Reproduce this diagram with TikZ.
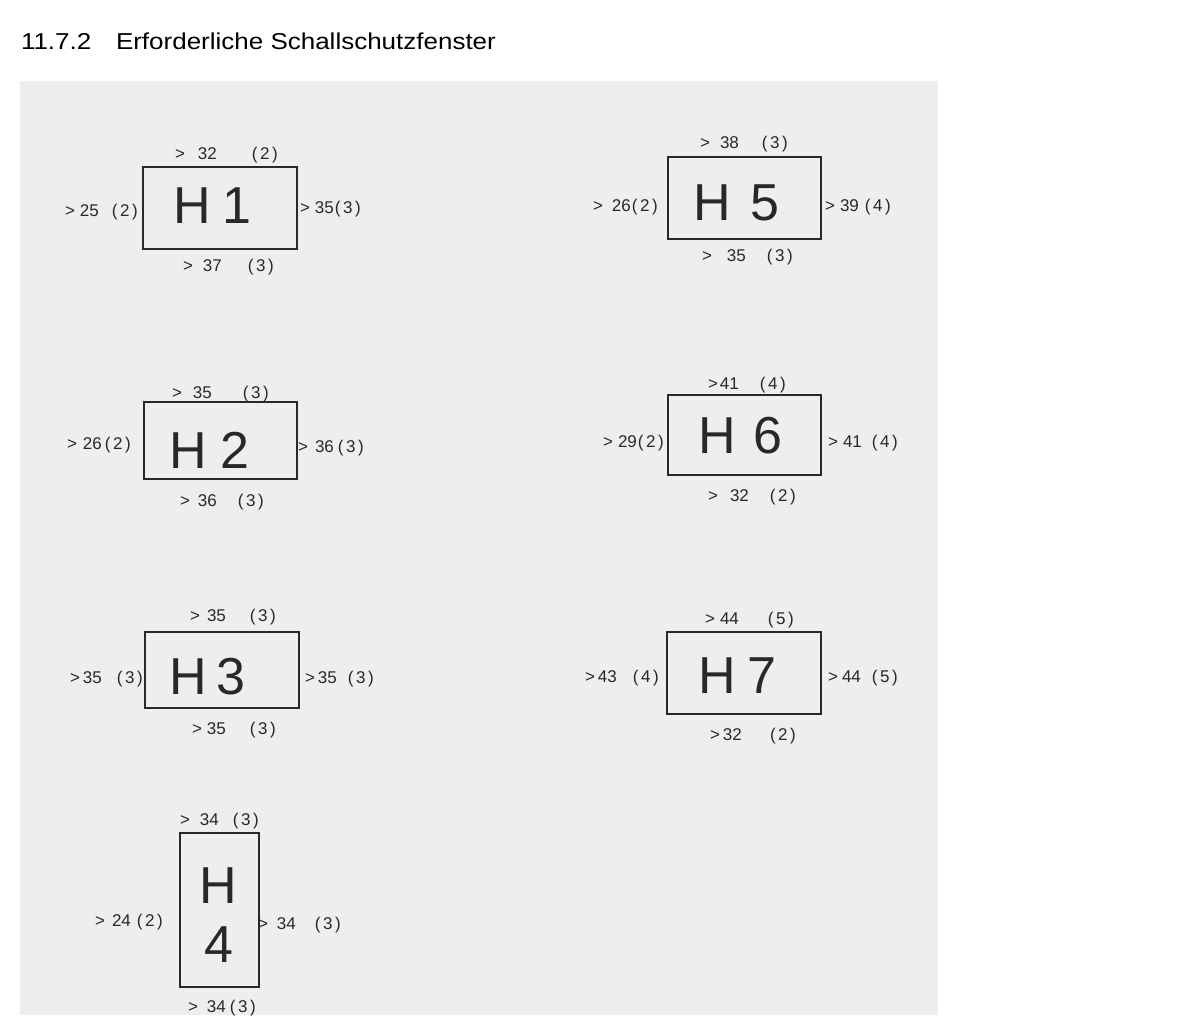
\documentclass[tikz,border=0pt]{standalone}
\usepackage{fontspec}
\setmainfont{Liberation Sans}
\newfontfamily\titlefont[FakeStretch=1.13]{Liberation Sans}
\definecolor{paper}{RGB}{239,238,236}
\definecolor{ink}{RGB}{40,40,40}
\newcommand{\lbl}[4]{\makebox[#1pt][l]{>}\makebox[#2pt][l]{#3}(\kern2.5pt #4\kern2.5pt)}
\begin{document}
\begin{tikzpicture}[x=1pt,y=-1pt,
  lab/.style={inner sep=0pt,outer sep=0pt,anchor=base west,text=ink,font=\fontsize{17}{20}\selectfont},
  big/.style={inner sep=0pt,outer sep=0pt,anchor=base west,text=ink,font=\fontsize{52}{60}\selectfont},
  hbox/.style={draw=ink,line width=1.3pt,inner sep=0pt,outer sep=0pt,rectangle},
  ttl/.style={inner sep=0pt,outer sep=0pt,anchor=base west,text=black,font=\titlefont\fontsize{23}{27}\selectfont}]
\useasboundingbox (0,0) rectangle (1186,1015);
\fill[white] (0,0) rectangle (1186,1015);
\fill[paper] (20,81) rectangle (938,1015);
% title
\node[ttl] (tnum) at (21,49) {11.7.2};
\node[ttl] (ttext) at (116,49) {Erforderliche Schallschutzfenster};
% boxes
\node[hbox,minimum width=154pt,minimum height=82pt] (b1) at (220,208) {};
\node[hbox,minimum width=153pt,minimum height=82pt] (b5) at (744.5,198) {};
\node[hbox,minimum width=153pt,minimum height=77pt] (b2) at (220.5,440.5) {};
\node[hbox,minimum width=153pt,minimum height=80pt] (b6) at (744.5,435) {};
\node[hbox,minimum width=154pt,minimum height=76pt] (b3) at (222,670) {};
\node[hbox,minimum width=154pt,minimum height=82pt] (b7) at (744,673) {};
\node[hbox,minimum width=79pt,minimum height=154pt] (b4) at (219.5,910) {};
% big names
\node[big] (n1) at (173,223) {H\hspace{12pt}1};
\node[big] (n5) at (693,220) {H\hspace{19.5pt}5};
\node[big] (n2) at (169,468) {H\hspace{13.5pt}2};
\node[big] (n6) at (698,453) {H\hspace{17.5pt}6};
\node[big] (n3) at (169,694) {H\hspace{9.5pt}3};
\node[big] (n7) at (698,693) {H\hspace{12pt}7};
\node[big] (n4h) at (199,903) {H};
\node[big] (n4d) at (204,962) {4};
% H1
\node[lab] (h1t) at (175,159) {\lbl{23}{54}{32}{2}};
\node[lab] (h1b) at (183,271) {\lbl{20}{45}{37}{3}};
\node[lab] (h1l) at (65,216) {\lbl{15}{32}{25}{2}};
\node[lab] (h1r) at (300,213) {\lbl{15}{20}{35}{3}};
% H5
\node[lab] (h5t) at (700,148) {\lbl{20}{42}{38}{3}};
\node[lab] (h5b) at (702,261) {\lbl{25}{40}{35}{3}};
\node[lab] (h5l) at (593,211) {\lbl{19}{20}{26}{2}};
\node[lab] (h5r) at (825,211) {\lbl{15}{25}{39}{4}};
% H2
\node[lab] (h2t) at (172,398) {\lbl{21}{50}{35}{3}};
\node[lab] (h2b) at (180,506) {\lbl{18}{40}{36}{3}};
\node[lab] (h2l) at (67,449) {\lbl{16}{22}{26}{2}};
\node[lab] (h2r) at (298,452) {\lbl{17}{23}{36}{3}};
% H6
\node[lab] (h6t) at (708,389) {\lbl{12}{40}{41}{4}};
\node[lab] (h6b) at (708,501) {\lbl{22}{40}{32}{2}};
\node[lab] (h6l) at (603,447) {\lbl{15}{20}{29}{2}};
\node[lab] (h6r) at (828,447) {\lbl{15}{29}{41}{4}};
% H3
\node[lab] (h3t) at (190,621) {\lbl{17}{43}{35}{3}};
\node[lab] (h3b) at (192,734) {\lbl{15}{43}{35}{3}};
\node[lab] (h3l) at (70,683) {\lbl{13}{34}{35}{3}};
\node[lab] (h3r) at (305,683) {\lbl{13}{30}{35}{3}};
% H7
\node[lab] (h7t) at (705,624) {\lbl{15}{48}{44}{5}};
\node[lab] (h7b) at (710,740) {\lbl{13}{47}{32}{2}};
\node[lab] (h7l) at (585,682) {\lbl{13}{35}{43}{4}};
\node[lab] (h7r) at (828,682) {\lbl{14}{30}{44}{5}};
% H4
\node[lab] (h4t) at (180,825) {\lbl{20}{33}{34}{3}};
\node[lab] (h4b) at (188,1012) {\lbl{19}{23}{34}{3}};
\node[lab] (h4l) at (95,926) {\lbl{17}{25}{24}{2}};
\node[lab] (h4r) at (258,929) {\lbl{19}{38}{34}{3}};
\end{tikzpicture}
\end{document}
